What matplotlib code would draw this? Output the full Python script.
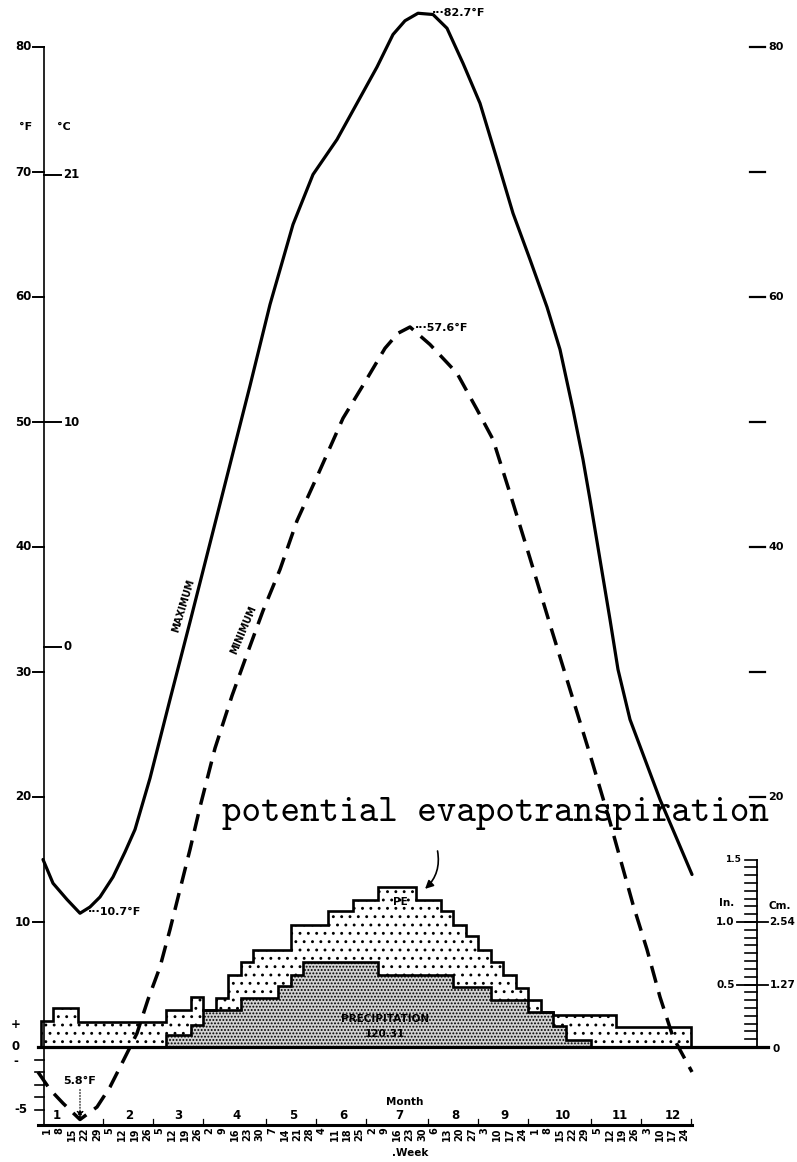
import numpy as np
import matplotlib.pyplot as plt

plt.rcParams['hatch.linewidth'] = 0.9

# day of month that starts each of the 52 weeks
week_days = [1, 8, 15, 22, 29, 5, 12, 19, 26, 5, 12, 19, 26, 2, 9, 16, 23, 30,
             7, 14, 21, 28, 4, 11, 18, 25, 2, 9, 16, 23, 30, 6, 13, 20, 27,
             3, 10, 17, 24, 1, 8, 15, 22, 29, 5, 12, 19, 26, 3, 10, 17, 24]
weeks_per_month = [5, 4, 4, 5, 4, 4, 5, 4, 4, 5, 4, 4]
month_labels = ['1', '2', '3', '4', '5', '6', '7', '8', '9', '10', '11', '12']
month_label_pos = [0.8, 6.6, 10.5, 15.2, 19.7, 23.7, 28.2, 32.7, 36.6, 41.3, 45.8, 50.1]

# maximum temperature curve (week index, deg F)
max_week = [-0.32, 0.48, 1.6, 2.64, 3.44, 4.24, 5.28, 6.24, 7.04, 8.24, 9.84,
            11.44, 13.04, 14.64, 16.24, 17.84, 19.68, 21.28, 23.2, 24.8, 26.4,
            27.68, 28.64, 29.68, 30.88, 32.0, 33.28, 34.64, 36.0, 37.28, 38.64,
            40.0, 41.04, 42.08, 42.88, 43.44, 44.24, 45.04, 45.68, 46.64, 47.84,
            49.04, 50.24, 51.6]
max_temp = [15.0, 13.1, 11.8, 10.7, 11.2, 12.0, 13.6, 15.6, 17.4, 21.5, 27.8,
            34.0, 40.3, 46.6, 52.9, 59.4, 65.8, 69.8, 72.6, 75.5, 78.4,
            81.0, 82.1, 82.7, 82.6, 81.5, 78.7, 75.5, 71.0, 66.7, 63.0,
            59.2, 55.8, 51.0, 47.0, 43.8, 39.0, 34.2, 30.2, 26.2, 23.0,
            19.8, 17.0, 13.8]

# minimum temperature curve (week index, deg F)
min_week = [-0.72, 0.24, 1.28, 2.64, 4.0, 5.04, 6.0, 7.2, 8.08, 9.04, 9.84,
            10.64, 11.44, 12.24, 13.44, 14.8, 15.92, 17.28, 18.64, 20.0, 21.68,
            23.68, 25.44, 27.04, 28.08, 29.04, 30.64, 32.8, 34.4, 35.68, 37.04,
            38.64, 40.24, 41.84, 43.44, 45.04, 46.88, 48.0, 49.04, 50.08, 51.6]
min_temp = [-2.0, -3.4, -4.5, -5.8, -4.8, -3.2, -1.3, 1.1, 3.8, 6.4, 9.4,
            12.6, 15.8, 19.2, 23.9, 28.1, 31.2, 34.9, 38.2, 42.1, 45.8,
            50.3, 53.2, 55.9, 57.1, 57.6, 56.2, 53.9, 51.0, 48.6, 44.3,
            39.1, 33.8, 28.6, 23.4, 18.0, 11.4, 7.8, 4.0, 0.8, -2.0]

# weekly water budget in inches: upper and lower step lines
upper_in = [0.21, 0.31, 0.31, 0.20, 0.20, 0.20, 0.20, 0.20, 0.20, 0.20,
            0.30, 0.30, 0.40, 0.30, 0.39, 0.58, 0.68, 0.78, 0.78, 0.78,
            0.98, 0.98, 0.98, 1.09, 1.09, 1.18, 1.18, 1.28, 1.28, 1.28,
            1.18, 1.18, 1.09, 0.98, 0.89, 0.78, 0.68, 0.58, 0.47, 0.38,
            0.28, 0.26, 0.26, 0.26, 0.26, 0.26, 0.16, 0.16, 0.16, 0.16,
            0.16, 0.16]
lower_in = [0, 0, 0, 0, 0, 0, 0, 0, 0, 0,
            0.10, 0.10, 0.18, 0.30, 0.30, 0.30, 0.39, 0.39, 0.39, 0.49,
            0.58, 0.68, 0.68, 0.68, 0.68, 0.68, 0.68, 0.58, 0.58, 0.58,
            0.58, 0.58, 0.58, 0.48, 0.48, 0.48, 0.38, 0.38, 0.38, 0.28,
            0.28, 0.17, 0.06, 0.06, 0, 0, 0, 0, 0, 0,
            0, 0]

f_ticks = [80, 70, 60, 50, 40, 30, 20, 10]
c_ticks = [21, 10, 0]
right_ticks = [80, 70, 60, 50, 40, 30, 20]
right_labels = [80, 60, 40, 20]
inch_major = [0.5, 1.0]

IN2F = 10.0  # one inch of water drawn as 10 deg F on the page
bold = dict(fontweight='bold', color='black')

fig = plt.figure(figsize=(7.97, 11.62), dpi=100)
ax = fig.add_axes([0, 0, 1, 1])
ax.set_xlim(-3.76, 60.0)
ax.set_ylim(-9.2, 83.76)
ax.axis('off')

# water budget steps
edges = np.arange(len(upper_in) + 1) - 0.5
up = np.array(upper_in) * IN2F
lo = np.array(lower_in) * IN2F
ax.stairs(up, edges, baseline=lo, fill=True, facecolor='white',
          edgecolor='black', hatch='..', linewidth=0)
ax.stairs(lo, edges, baseline=0, fill=True, facecolor='#d2d2d2',
          edgecolor='black', hatch='.....', linewidth=0)
ax.stairs(up, edges, baseline=0, color='black', lw=1.9)
ax.stairs(lo, edges, baseline=None, color='black', lw=1.9)

# temperature curves
ax.plot(max_week, max_temp, color='black', lw=2.3,
        solid_capstyle='round', solid_joinstyle='round')
ax.plot(min_week, min_temp, color='black', lw=2.5,
        linestyle=(0, (5, 2.8)), dash_capstyle='butt')

# left axis (deg F / deg C)
x_sp = -0.24
ax.plot([x_sp, x_sp], [-6.2, 80], color='black', lw=1.2)
for t in f_ticks:
    ax.plot([-1.1, x_sp], [t, t], color='black', lw=1.4)
    ax.text(-1.25, t, str(t), ha='right', va='center', fontsize=8.5, **bold)
for c in c_ticks:
    f = c * 9 / 5 + 32
    ax.plot([x_sp, 1.1], [f, f], color='black', lw=1.4)
    ax.text(1.3, f, str(c), ha='left', va='center', fontsize=8.5, **bold)
ax.text(-1.7, 73.6, '°F', ha='center', va='center', fontsize=8, **bold)
ax.text(0.8, 73.6, '°C', ha='left', va='center', fontsize=8, **bold)
for t in [-1, -2, -3, -4, -5]:
    ax.plot([-0.95, x_sp], [t, t], color='black', lw=1.2)
ax.text(-2.5, 0, '0', ha='center', va='center', fontsize=8.5, **bold)
ax.text(-2.5, 1.8, '+', ha='center', va='center', fontsize=8.5, **bold)
ax.text(-2.5, -1.2, '-', ha='center', va='center', fontsize=8.5, **bold)
ax.text(-2.1, -5.0, '-5', ha='center', va='center', fontsize=8.5, **bold)

# zero line and time axis
ax.plot([-0.72, 57.7], [0, 0], color='black', lw=2.3)
ax.plot([-0.72, 51.6], [-6.2, -6.2], color='black', lw=2.2)
for b in np.cumsum(weeks_per_month) - 0.5:
    ax.plot([b, b], [-6.2, -5.75], color='black', lw=0.9)
for m, pos in zip(month_labels, month_label_pos):
    ax.text(pos, -5.5, m, ha='center', va='center', fontsize=8.5, **bold)
for i, d in enumerate(week_days):
    ax.text(i, -6.45, str(d), rotation=90, ha='center', va='top', fontsize=7, **bold)
ax.text(28.64, -4.4, 'Month', ha='center', va='center', fontsize=7.5, **bold)
ax.text(29.04, -8.48, '.Week', ha='center', va='center', fontsize=7.5, **bold)

# right temperature ticks
for t in right_ticks:
    ax.plot([56.24, 57.44], [t, t], color='black', lw=1.6)
    if t in right_labels:
        ax.text(57.7, t, str(t), ha='left', va='center', fontsize=8, **bold)

# inch / cm scale
x_in = 56.8
ax.plot([x_in, x_in], [0, 1.5 * IN2F], color='black', lw=1.3)
for v in np.arange(0, 1.5 + 1e-9, 1 / 16):
    ax.plot([55.84, x_in], [v * IN2F, v * IN2F], color='black', lw=1.2)
for v in inch_major:
    ax.plot([55.2, 57.68], [v * IN2F, v * IN2F], color='black', lw=1.3)
    ax.text(55.0, v * IN2F, f'{v:.1f}', ha='right', va='center', fontsize=7.5, **bold)
    ax.text(57.8, v * IN2F, f'{v * 2.54:.2f}', ha='left', va='center', fontsize=7.5, **bold)
ax.text(55.5, 1.5 * IN2F, '1.5', ha='right', va='center', fontsize=6.5, **bold)
ax.text(54.4, 11.5, 'In.', ha='center', va='center', fontsize=7.5, **bold)
ax.text(58.6, 11.3, 'Cm.', ha='center', va='center', fontsize=7.5, **bold)
ax.text(58.0, -0.2, '0', ha='left', va='center', fontsize=7.5, **bold)

# annotations
ax.text(30.8, 82.7, '···82.7°F', ha='left', va='center', fontsize=8, **bold)
ax.text(29.4, 57.5, '···57.6°F', ha='left', va='center', fontsize=8, **bold)
ax.text(3.3, 10.8, '···10.7°F', ha='left', va='center', fontsize=8, **bold)
ax.text(2.64, -2.75, '5.8°F', ha='center', va='center', fontsize=8, **bold)
ax.annotate('', xy=(2.64, -5.7), xytext=(2.64, -3.4),
            arrowprops=dict(arrowstyle='-|>', linestyle=':', color='black',
                            lw=0.8, shrinkA=0, shrinkB=0))
ax.text(10.9, 35.3, 'MAXIMUM', rotation=73, ha='center', va='center', fontsize=7, **bold)
ax.text(15.7, 33.4, 'MINIMUM', rotation=67, ha='center', va='center', fontsize=7, **bold)
ax.text(28.24, 11.6, 'PE', ha='center', va='center', fontsize=7.5, **bold)
ax.text(27.04, 2.24, 'PRECIPITATION', ha='center', va='center', fontsize=7.5, **bold)
ax.text(27.04, 1.04, '120.31', ha='center', va='center', fontsize=7.5, **bold)
ax.text(14.0, 18.7, 'potential evapotranspiration', ha='left', va='center',
        fontsize=26.8, family='cmtt10', color='black')
ax.annotate('', xy=(30.08, 12.5), xytext=(31.2, 15.9),
            arrowprops=dict(arrowstyle='-|>', color='black', lw=1.2,
                            connectionstyle='arc3,rad=-0.3', mutation_scale=12))

fig.savefig('out.png', dpi=100)
